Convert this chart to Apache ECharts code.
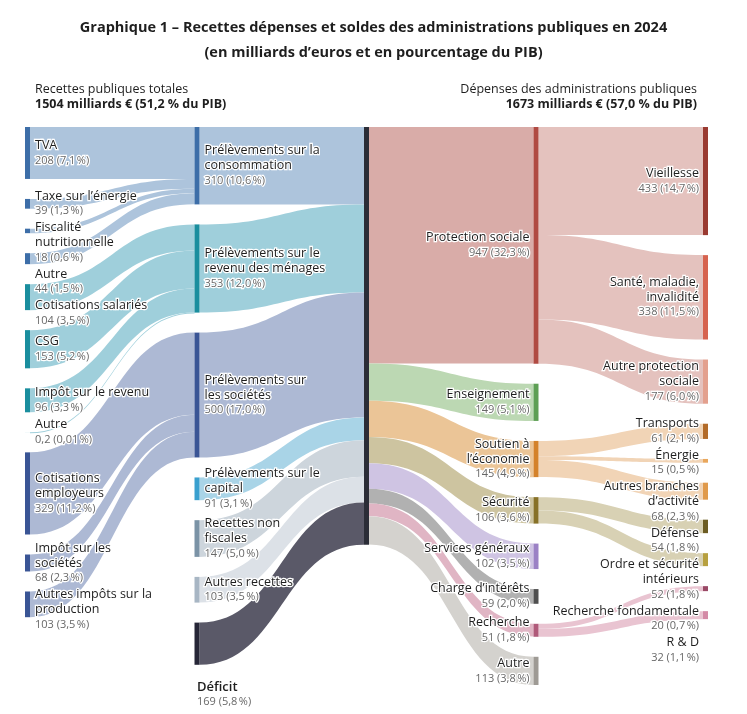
<!DOCTYPE html>
<html>
<head>
<meta charset="utf-8">
<script src="https://cdn.jsdelivr.net/npm/echarts@6/dist/echarts.min.js"></script>
<style>
html,body{margin:0;padding:0;background:#fff;}
#chart{width:747px;height:714px;}
</style>
</head>
<body>
<div id="chart"></div>
<script>
// ---------- DATA ----------
// Column 0 : détail des recettes
const recLabels = ['TVA', 'Taxe sur l’énergie', 'Fiscalité\nnutritionnelle', 'Autre', 'Cotisations salariés', 'CSG', 'Impôt sur le revenu', 'Autre', 'Cotisations\nemployeurs', 'Impôt sur les\nsociétés', 'Autres impôts sur la\nproduction'];
const recValues = [208, 39, 18, 44, 104, 153, 96, 0.2, 329, 68, 103];
const recPct = ['7,1', '1,3', '0,6', '1,5', '3,5', '5,2', '3,3', '0,01', '11,2', '2,3', '3,5'];
const recTarget = [0, 0, 0, 0, 1, 1, 1, 1, 2, 2, 2];
// Column 1 : grandes catégories de recettes (+ déficit)
const grpLabels = ['Prélèvements sur la\nconsommation', 'Prélèvements sur le\nrevenu des ménages', 'Prélèvements sur\nles sociétés', 'Prélèvements sur le\ncapital', 'Recettes non\nfiscales', 'Autres recettes', 'Déficit'];
const grpValues = [310, 353, 500, 91, 147, 103, 169];
const grpPct = ['10,6', '12,0', '17,0', '3,1', '5,0', '3,5', '5,8'];
// Column 3 : dépenses par fonction
const depLabels = ['Protection sociale', 'Enseignement', 'Soutien à\nl’économie', 'Sécurité', 'Services généraux', 'Charge d’intérêts', 'Recherche', 'Autre'];
const depValues = [947, 149, 145, 106, 102, 59, 51, 113];
const depPct = ['32,3', '5,1', '4,9', '3,6', '3,5', '2,0', '1,8', '3,8'];
// Column 4 : sous-fonctions
const subLabels = ['Vieillesse', 'Santé, maladie,\ninvalidité', 'Autre protection\nsociale', 'Transports', 'Énergie', 'Autres branches\nd’activité', 'Défense', 'Ordre et sécurité\nintérieurs', 'Recherche fondamentale', 'R & D'];
const subValues = [433, 338, 177, 61, 15, 68, 54, 52, 20, 32];
const subPct = ['14,7', '11,5', '6,0', '2,1', '0,5', '2,3', '1,8', '1,8', '0,7', '1,1'];
const subSource = [0, 0, 0, 2, 2, 2, 3, 3, 6, 6];

// ---------- STYLES ----------
const recBarColors = ['#3d6ea8', '#3d6ea8', '#3d6ea8', '#3d6ea8', '#1a8e9e', '#1a8e9e', '#1a8e9e', '#1a8e9e', '#3a5595', '#3a5595', '#3a5595'];
const grpBarColors = ['#3d6ea8', '#1a8e9e', '#3a5595', '#3aa0cf', '#7b93a6', '#a8b6c4', '#262637'];
const grpLinkColors = ['#adc4dc', '#9fcfdb', '#adb9d4', '#a9d4e7', '#cdd5dc', '#dce1e7', '#5a5968'];
const depBarColors = ['#b04a42', '#5d9f54', '#d4822a', '#877127', '#9b81c5', '#4f4f4f', '#b05a7a', '#9e9a94'];
const depLinkColors = ['#d9aca8', '#bcd8b3', '#ebc597', '#cdc4a0', '#cfc4e3', '#b1b1b1', '#e0b5c4', '#d4d2ce'];
const subBarColors = ['#9a3a31', '#d6634f', '#e3a08e', '#b36b28', '#e9a75c', '#e09a4b', '#6c5c22', '#b7a03f', '#9a4966', '#d48aa6'];
const subLinkColors = {0: '#e4c2be', 2: '#f1d4b6', 3: '#d8d1b4', 6: '#e9c4d1'};

const FONT = '"Open Sans", "Noto Sans", sans-serif';

function fmtNum(v) { return String(v).replace('.', ','); }
function richText(label, value, pct) {
  const lines = label.split('\n').map(function (l) { return '{n|' + l + '}'; });
  lines.push('{v|' + fmtNum(value) + ' (' + pct + '\u202f%)}');
  return lines.join('\n');
}

// ---------- BUILD GRAPH ----------
const nodes = [];
const links = [];
const nodeCol = [];
const recIdx = [], grpIdx = [], depIdx = [], subIdx = [];

recLabels.forEach(function (l, i) {
  recIdx.push(nodes.length); nodeCol.push(0);
  nodes.push({ name: 'r' + i, depth: 0, itemStyle: { color: recBarColors[i] },
    label: { formatter: richText(l, recValues[i], recPct[i]) } });
});
grpLabels.forEach(function (l, i) {
  grpIdx.push(nodes.length); nodeCol.push(1);
  const item = { name: 'g' + i, depth: 1, itemStyle: { color: grpBarColors[i] },
    label: { formatter: richText(l, grpValues[i], grpPct[i]) } };
  if (i === grpLabels.length - 1) {
    item.label.position = 'bottom';
    item.label.align = 'left';
    item.label.distance = 14;
    item.label.offset = [-3, 0];
    item.label.formatter = '{b|' + l + '}\n{v|' + grpValues[i] + ' (' + grpPct[i] + '\u202f%)}';
  }
  nodes.push(item);
});
const totalIdx = nodes.length; nodeCol.push(2);
nodes.push({ name: 'total', depth: 2, itemStyle: { color: '#2b2d37' }, label: { show: false } });
depLabels.forEach(function (l, i) {
  depIdx.push(nodes.length); nodeCol.push(3);
  nodes.push({ name: 'd' + i, depth: 3, itemStyle: { color: depBarColors[i] },
    label: { formatter: richText(l, depValues[i], depPct[i]) } });
});
subLabels.forEach(function (l, i) {
  subIdx.push(nodes.length); nodeCol.push(4);
  nodes.push({ name: 's' + i, depth: 4, itemStyle: { color: subBarColors[i] },
    label: { formatter: richText(l, subValues[i], subPct[i]) } });
});

recValues.forEach(function (v, i) {
  links.push({ source: recIdx[i], target: grpIdx[recTarget[i]], value: v,
    lineStyle: { color: grpLinkColors[recTarget[i]] } });
});
grpValues.forEach(function (v, i) {
  links.push({ source: grpIdx[i], target: totalIdx, value: v,
    lineStyle: { color: grpLinkColors[i] } });
});
depValues.forEach(function (v, i) {
  links.push({ source: totalIdx, target: depIdx[i], value: v,
    lineStyle: { color: depLinkColors[i] } });
});
subValues.forEach(function (v, i) {
  links.push({ source: depIdx[subSource[i]], target: subIdx[i], value: v,
    lineStyle: { color: subLinkColors[subSource[i]] } });
});

const halo = { textBorderColor: '#ffffff', textBorderWidth: 2.5 };
const rich = {
  n: Object.assign({ fontFamily: FONT, fontSize: 12.5, color: '#1e1e1e', lineHeight: 15 }, halo),
  b: Object.assign({ fontFamily: FONT, fontSize: 13, fontWeight: 600, color: '#1e1e1e', lineHeight: 16 }, halo),
  v: Object.assign({ fontFamily: FONT, fontSize: 11, color: '#686868', lineHeight: 15 }, halo)
};

// keep labels of the densest columns from overlapping: push a label down
// when it would overlap the previous label of the same column
const lastBottom = {};
function labelLayout(p) {
  if (p.dataType !== 'node') return {};
  const col = nodeCol[p.dataIndex];
  if (col !== 0 && col !== 4) return {};
  if (p.dataIndex === 0 || nodeCol[p.dataIndex - 1] !== col) lastBottom[col] = -Infinity;
  const top = p.labelRect.y;
  let dy = 0;
  if (top < lastBottom[col] + 2) dy = lastBottom[col] + 2 - top;
  lastBottom[col] = top + p.labelRect.height + dy;
  return { dy: dy };
}

const chart = echarts.init(document.getElementById('chart'), null, { renderer: 'canvas' });
chart.setOption({
  backgroundColor: '#ffffff',
  animation: false,
  title: [
    { text: 'Graphique 1 – Recettes dépenses et soldes des administrations publiques en 2024',
      left: 'center', top: 15,
      textStyle: { fontFamily: FONT, fontSize: 14.5, fontWeight: 'bold', color: '#1e1e1e' } },
    { text: '(en milliards d’euros et en pourcentage du PIB)',
      left: 'center', top: 40,
      textStyle: { fontFamily: FONT, fontSize: 14.5, fontWeight: 'bold', color: '#1e1e1e' } },
    { text: 'Recettes publiques totales\n{b|1504 milliards € (51,2 % du PIB)}', left: 30, top: 77,
      textStyle: { fontFamily: FONT, fontSize: 12.5, fontWeight: 'normal', color: '#1e1e1e', lineHeight: 15,
        rich: { b: { fontFamily: FONT, fontSize: 12.5, fontWeight: 'bold', color: '#1e1e1e', lineHeight: 15 } } } },
    { text: 'Dépenses des administrations publiques\n{b|1673 milliards € (57,0 % du PIB)}', right: 45, top: 77,
      textStyle: { fontFamily: FONT, fontSize: 12.5, fontWeight: 'normal', color: '#1e1e1e', lineHeight: 15, align: 'right',
        rich: { b: { fontFamily: FONT, fontSize: 12.5, fontWeight: 'bold', color: '#1e1e1e', lineHeight: 15, align: 'right' } } } }
  ],
  series: [{
    type: 'sankey',
    left: 25, right: 39, top: 127, bottom: 29,
    nodeWidth: 5,
    nodeGap: 20,
    nodeAlign: 'left',
    layoutIterations: 0,
    draggable: false,
    emphasis: { disabled: true },
    data: nodes,
    links: links,
    lineStyle: { opacity: 1, curveness: 0.5 },
    label: { show: true, position: 'right', distance: 5, align: 'left', rich: rich },
    labelLayout: labelLayout,
    levels: [
      { depth: 0 }, { depth: 1 }, { depth: 2 },
      { depth: 3, label: { position: 'left', distance: 4, align: 'right' } },
      { depth: 4, label: { position: 'left', distance: 4, align: 'right' } }
    ]
  }]
});
</script>
</body>
</html>
